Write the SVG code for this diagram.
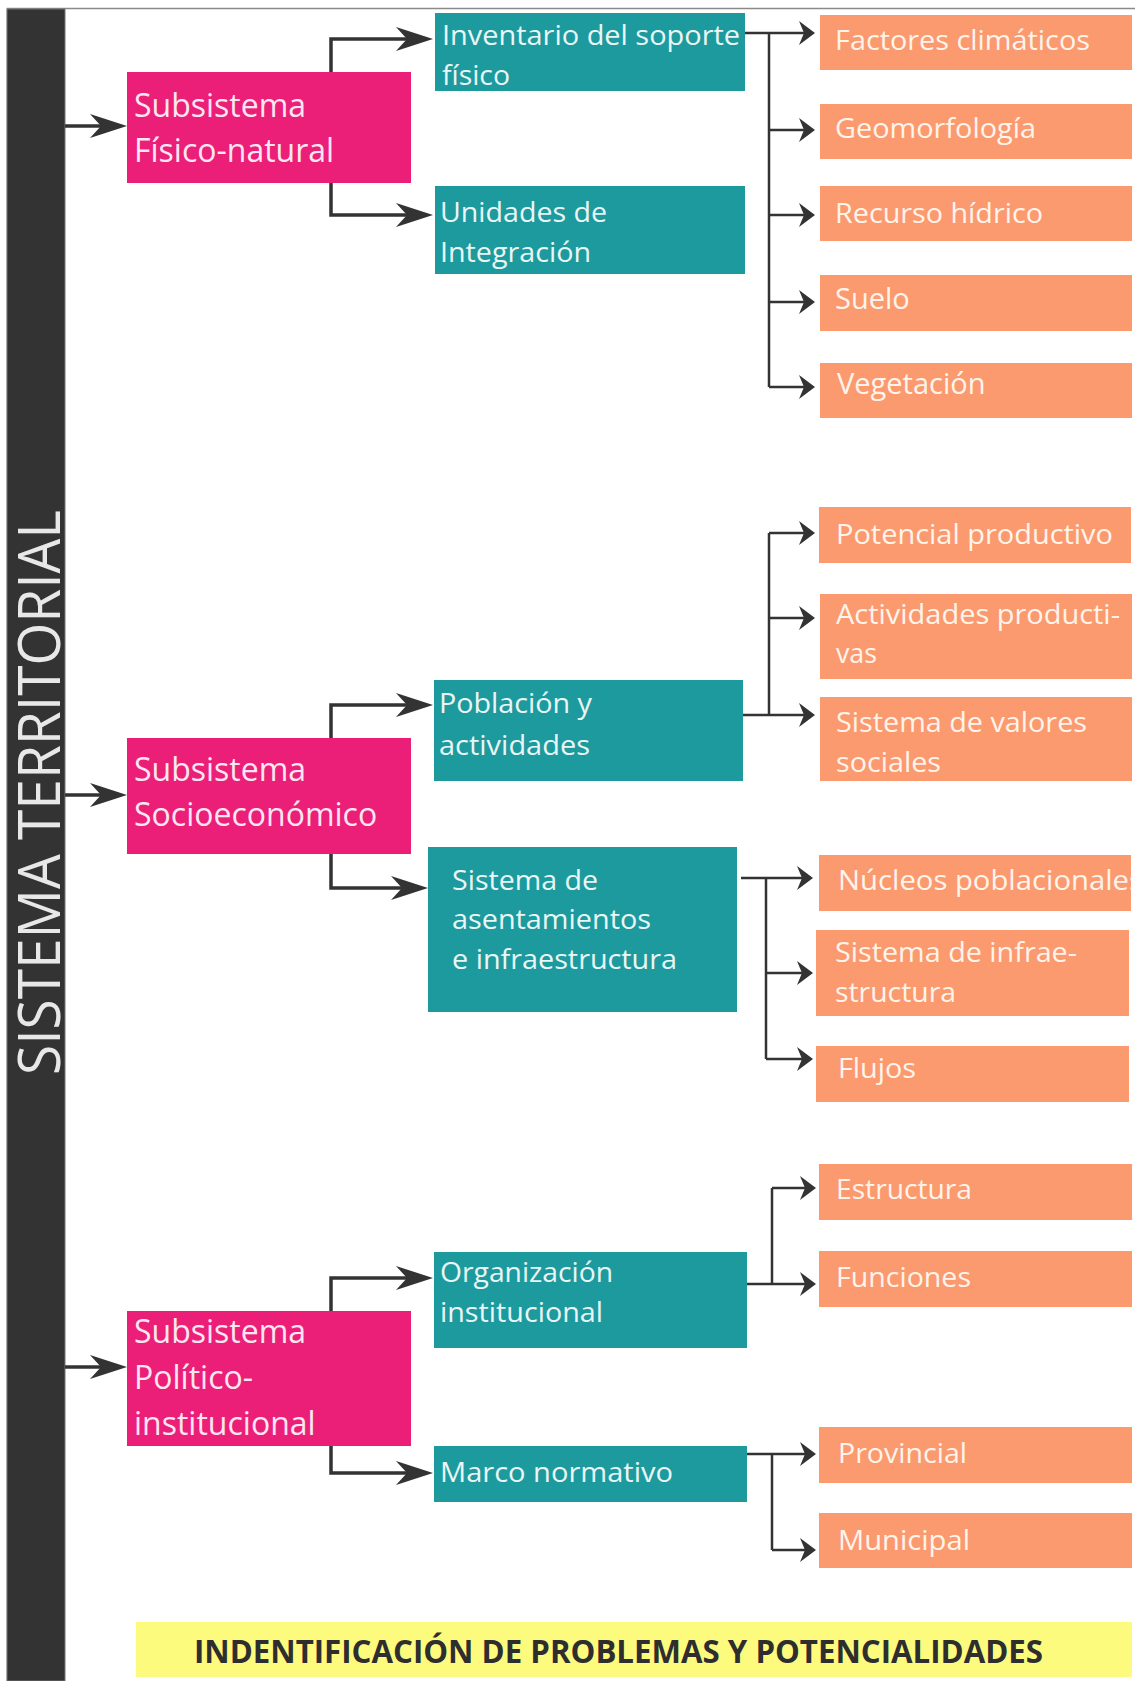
<svg xmlns="http://www.w3.org/2000/svg" width="1135" height="1681" viewBox="0 0 1135 1681">
<style>
.pink{fill:#EB1E78}
.teal{fill:#1D9A9D}
.orange{fill:#FB9A6F}
.pt{font-family:"Open Sans","Liberation Sans",sans-serif;font-size:32px;fill:#FCE6F0}
.tt{font-family:"Open Sans","Liberation Sans",sans-serif;font-size:28px;fill:#EAF6F6}
.ot{font-family:"Open Sans","Liberation Sans",sans-serif;font-size:28px;fill:#FFF4EC}
.os{font-family:"Open Sans","Liberation Sans",sans-serif;font-size:29px;fill:#FFF4EC}
.big{fill:none;stroke:#333;stroke-width:3.5}
.sm{fill:none;stroke:#333;stroke-width:2.5}
</style>
<defs>
<marker id="ab" markerUnits="userSpaceOnUse" viewBox="0 0 37 24" refX="27" refY="12" markerWidth="37" markerHeight="24" orient="auto">
<path d="M37,12 L0,0 L11,12 L0,24 z" fill="#333"/>
</marker>
<marker id="as" markerUnits="userSpaceOnUse" viewBox="0 0 16 24" refX="10" refY="12" markerWidth="16" markerHeight="24" orient="auto">
<path d="M16,12 L0,0 L5,12 L0,24 z" fill="#333"/>
</marker>
<clipPath id="clipN"><rect x="819" y="855" width="312" height="56"/></clipPath>
</defs>

<rect x="7.5" y="8.5" width="1140" height="1690" fill="none" stroke="#8a8a8a" stroke-width="1.5"/>

<g id="sistema-territorial">
<rect x="7" y="9" width="58" height="1672" fill="#333333" stroke="#777" stroke-width="1"/>
<text transform="translate(60,1075) rotate(-90)" font-family="'Open Sans','Liberation Sans',sans-serif" font-size="58" fill="#E8E8E8" textLength="565" lengthAdjust="spacingAndGlyphs">SISTEMA TERRITORIAL</text>
</g>

<g id="connectors">
<path class="big" d="M65,126 H117" marker-end="url(#ab)"/>
<path class="big" d="M65,795 H117" marker-end="url(#ab)"/>
<path class="big" d="M65,1367 H117" marker-end="url(#ab)"/>

<path class="big" d="M331,72 V39 H423" marker-end="url(#ab)"/>
<path class="big" d="M331,183 V215 H423" marker-end="url(#ab)"/>
<path class="big" d="M331,738 V705 H423" marker-end="url(#ab)"/>
<path class="big" d="M331,854 V888 H418" marker-end="url(#ab)"/>
<path class="big" d="M331,1311 V1278 H423" marker-end="url(#ab)"/>
<path class="big" d="M331,1446 V1473 H423" marker-end="url(#ab)"/>

<path class="sm" d="M745,33 H809" marker-end="url(#as)"/>
<path class="sm" d="M769,33 V387"/>
<path class="sm" d="M769,130 H809" marker-end="url(#as)"/>
<path class="sm" d="M769,215 H809" marker-end="url(#as)"/>
<path class="sm" d="M769,302 H809" marker-end="url(#as)"/>
<path class="sm" d="M769,387 H809" marker-end="url(#as)"/>

<path class="sm" d="M743,715 H809" marker-end="url(#as)"/>
<path class="sm" d="M769,533 V715"/>
<path class="sm" d="M769,533 H809" marker-end="url(#as)"/>
<path class="sm" d="M769,618 H809" marker-end="url(#as)"/>

<path class="sm" d="M741,878 H807" marker-end="url(#as)"/>
<path class="sm" d="M766,878 V1059"/>
<path class="sm" d="M766,973 H807" marker-end="url(#as)"/>
<path class="sm" d="M766,1059 H807" marker-end="url(#as)"/>

<path class="sm" d="M747,1284 H810" marker-end="url(#as)"/>
<path class="sm" d="M772,1188 V1284"/>
<path class="sm" d="M772,1188 H810" marker-end="url(#as)"/>

<path class="sm" d="M747,1454 H810" marker-end="url(#as)"/>
<path class="sm" d="M772,1454 V1550"/>
<path class="sm" d="M772,1550 H810" marker-end="url(#as)"/>
</g>

<g id="subsistema-fisico-natural">
<rect class="pink" x="127" y="72" width="284" height="111"/>
<text class="pt" x="134" y="117">Subsistema</text>
<text class="pt" x="134" y="162">Físico-natural</text>
</g>
<g id="subsistema-socioeconomico">
<rect class="pink" x="127" y="738" width="284" height="116"/>
<text class="pt" x="134" y="781">Subsistema</text>
<text class="pt" x="134" y="826">Socioeconómico</text>
</g>
<g id="subsistema-politico">
<rect class="pink" x="127" y="1311" width="284" height="135"/>
<text class="pt" x="134" y="1343">Subsistema</text>
<text class="pt" x="134" y="1389">Político-</text>
<text class="pt" x="134" y="1435">institucional</text>
</g>

<g id="inventario">
<rect class="teal" x="435" y="13" width="310" height="78"/>
<text class="tt" x="442" y="45" textLength="298" lengthAdjust="spacingAndGlyphs">Inventario del soporte</text>
<text class="tt" x="442" y="85" textLength="68" lengthAdjust="spacingAndGlyphs">físico</text>
</g>
<g id="unidades">
<rect class="teal" x="435" y="186" width="310" height="88"/>
<text class="tt" x="440" y="222" textLength="167" lengthAdjust="spacingAndGlyphs">Unidades de</text>
<text class="tt" x="440" y="262" textLength="151" lengthAdjust="spacingAndGlyphs">Integración</text>
</g>
<g id="poblacion">
<rect class="teal" x="434" y="680" width="309" height="101"/>
<text class="tt" x="439" y="713" textLength="153" lengthAdjust="spacingAndGlyphs">Población y</text>
<text class="tt" x="439" y="755" textLength="151" lengthAdjust="spacingAndGlyphs">actividades</text>
</g>
<g id="asentamientos">
<rect class="teal" x="428" y="847" width="309" height="165"/>
<text class="tt" x="452" y="890" textLength="146" lengthAdjust="spacingAndGlyphs">Sistema de</text>
<text class="tt" x="452" y="929" textLength="199" lengthAdjust="spacingAndGlyphs">asentamientos</text>
<text class="tt" x="452" y="969" textLength="225" lengthAdjust="spacingAndGlyphs">e infraestructura</text>
</g>
<g id="organizacion">
<rect class="teal" x="434" y="1252" width="313" height="96"/>
<text class="tt" x="440" y="1282" textLength="173" lengthAdjust="spacingAndGlyphs">Organización</text>
<text class="tt" x="440" y="1322" textLength="163" lengthAdjust="spacingAndGlyphs">institucional</text>
</g>
<g id="marco">
<rect class="teal" x="434" y="1446" width="313" height="56"/>
<text class="tt" x="440" y="1482" textLength="233" lengthAdjust="spacingAndGlyphs">Marco normativo</text>
</g>

<g id="factores">
<rect class="orange" x="820" y="15" width="312" height="55"/>
<text class="ot" x="835" y="50" textLength="255" lengthAdjust="spacingAndGlyphs">Factores climáticos</text>
</g>
<g id="geomorfologia">
<rect class="orange" x="820" y="104" width="312" height="55"/>
<text class="ot" x="835" y="138" textLength="201" lengthAdjust="spacingAndGlyphs">Geomorfología</text>
</g>
<g id="recurso">
<rect class="orange" x="820" y="186" width="312" height="55"/>
<text class="ot" x="835" y="223" textLength="208" lengthAdjust="spacingAndGlyphs">Recurso hídrico</text>
</g>
<g id="suelo">
<rect class="orange" x="820" y="275" width="312" height="56"/>
<text class="os" x="835" y="309">Suelo</text>
</g>
<g id="vegetacion">
<rect class="orange" x="820" y="363" width="312" height="55"/>
<text class="os" x="837" y="394">Vegetación</text>
</g>
<g id="potencial">
<rect class="orange" x="819" y="507" width="312" height="56"/>
<text class="ot" x="836" y="544" textLength="277" lengthAdjust="spacingAndGlyphs">Potencial productivo</text>
</g>
<g id="actividades">
<rect class="orange" x="820" y="594" width="312" height="85"/>
<text class="ot" x="836" y="624" textLength="284" lengthAdjust="spacingAndGlyphs">Actividades producti-</text>
<text class="ot" x="836" y="663" textLength="41" lengthAdjust="spacingAndGlyphs">vas</text>
</g>
<g id="valores">
<rect class="orange" x="820" y="697" width="312" height="84"/>
<text class="ot" x="836" y="732" textLength="251" lengthAdjust="spacingAndGlyphs">Sistema de valores</text>
<text class="ot" x="836" y="772" textLength="105" lengthAdjust="spacingAndGlyphs">sociales</text>
</g>
<g id="nucleos">
<rect class="orange" x="819" y="855" width="312" height="56"/>
<text class="ot" x="838" y="890" textLength="305" lengthAdjust="spacingAndGlyphs" clip-path="url(#clipN)">Núcleos poblacionales</text>
</g>
<g id="infraestructura">
<rect class="orange" x="816" y="930" width="313" height="86"/>
<text class="ot" x="835" y="962" textLength="242" lengthAdjust="spacingAndGlyphs">Sistema de infrae-</text>
<text class="ot" x="835" y="1002" textLength="121" lengthAdjust="spacingAndGlyphs">structura</text>
</g>
<g id="flujos">
<rect class="orange" x="816" y="1046" width="313" height="56"/>
<text class="ot" x="838" y="1078" textLength="78" lengthAdjust="spacingAndGlyphs">Flujos</text>
</g>
<g id="estructura">
<rect class="orange" x="819" y="1164" width="313" height="56"/>
<text class="ot" x="836" y="1199" textLength="136" lengthAdjust="spacingAndGlyphs">Estructura</text>
</g>
<g id="funciones">
<rect class="orange" x="819" y="1251" width="313" height="56"/>
<text class="ot" x="836" y="1287" textLength="135" lengthAdjust="spacingAndGlyphs">Funciones</text>
</g>
<g id="provincial">
<rect class="orange" x="819" y="1427" width="313" height="56"/>
<text class="ot" x="838" y="1463" textLength="129" lengthAdjust="spacingAndGlyphs">Provincial</text>
</g>
<g id="municipal">
<rect class="orange" x="819" y="1513" width="313" height="55"/>
<text class="ot" x="838" y="1550" textLength="132" lengthAdjust="spacingAndGlyphs">Municipal</text>
</g>

<g id="banner">
<rect x="136" y="1622" width="996" height="55" fill="#FDFB7E"/>
<text x="194" y="1663" font-family="'Open Sans','Liberation Sans',sans-serif" font-weight="bold" font-size="33" fill="#2E2E2E" textLength="849" lengthAdjust="spacingAndGlyphs">INDENTIFICACIÓN DE PROBLEMAS Y POTENCIALIDADES</text>
</g>
</svg>
